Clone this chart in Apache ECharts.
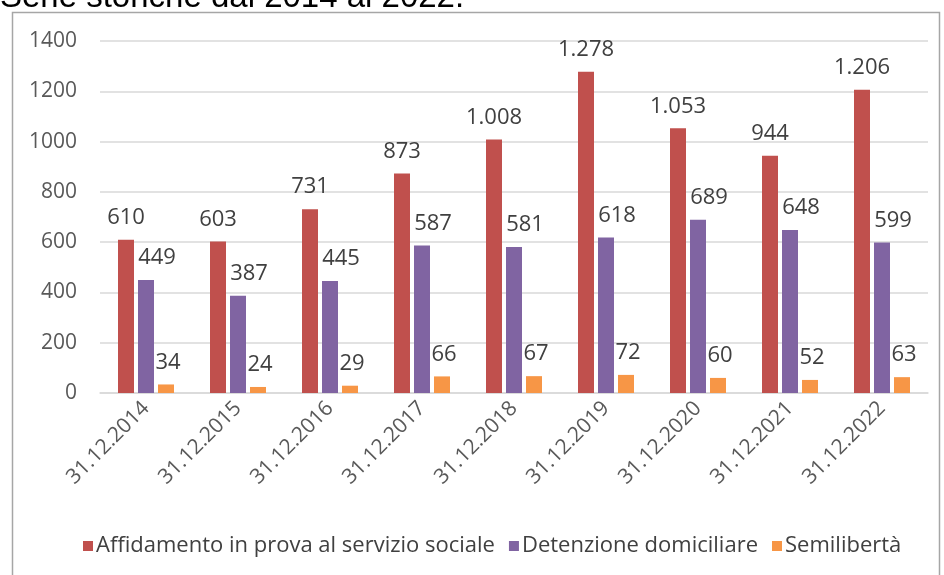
<!DOCTYPE html>
<html>
<head>
<meta charset="utf-8">
<script src="https://cdn.jsdelivr.net/npm/echarts@6/dist/echarts.min.js"></script>
<style>
  html, body { margin: 0; padding: 0; background: #fff; }
  #chart { width: 944px; height: 575px; }
</style>
</head>
<body>
<div id="chart"></div>
<script>
const categories = ["31.12.2014", "31.12.2015", "31.12.2016", "31.12.2017", "31.12.2018", "31.12.2019", "31.12.2020", "31.12.2021", "31.12.2022"];
const affidamento = [610, 603, 731, 873, 1008, 1278, 1053, 944, 1206];
const detenzione = [449, 387, 445, 587, 581, 618, 689, 648, 599];
const semiliberta = [34, 24, 29, 66, 67, 72, 60, 52, 63];
const yTicks = [0, 200, 400, 600, 800, 1000, 1200, 1400];

const FONT = "Open Sans";

// Italian thousands separator
const fmt = (v) => String(v).replace(/\B(?=(\d{3})+(?!\d))/g, ".");

const chart = echarts.init(document.getElementById("chart"));

const makeSeries = (name, data, color, offset) => ({
  name: name,
  type: "bar",
  data: data,
  barWidth: 16,
  barGap: "25%",
  itemStyle: { color: color },
  label: {
    show: true,
    position: "top",
    distance: 11,
    offset: offset,
    color: "#404040",
    fontSize: 22,
    fontFamily: FONT,
    formatter: (p) => fmt(p.value),
  },
});

chart.setOption({
  animation: false,
  graphic: [
    {
      type: "rect",
      shape: { x: 12.5, y: 12.5, width: 927, height: 600 },
      style: { fill: "none", stroke: "#a6a6a6", lineWidth: 1.5 },
    },
    {
      type: "text",
      left: 0,
      top: -19,
      style: {
        text: "Serie storiche dal 2014 al 2022.",
        font: "33px 'Liberation Sans', Arial",
        fill: "#000",
      },
    },
  ],
  legend: {
    bottom: 13,
    left: 78,
    itemWidth: 10,
    itemHeight: 10,
    itemGap: 14,
    icon: "rect",
    textStyle: { color: "#404040", fontSize: 22, fontFamily: FONT, padding: [0, 0, 0, -2] },
    data: ["Affidamento in prova al servizio sociale", "Detenzione domiciliare", "Semilibertà"],
  },
  grid: { left: 100, right: 16, top: 41, bottom: 182, containLabel: false },
  xAxis: {
    type: "category",
    data: categories,
    axisTick: { show: false },
    axisLine: { lineStyle: { color: "#d9d9d9", width: 1.5 } },
    axisLabel: {
      rotate: 45,
      color: "#595959",
      fontSize: 21,
      fontFamily: FONT,
      margin: 12,
      interval: 0,
    },
  },
  yAxis: {
    type: "value",
    min: yTicks[0],
    max: yTicks[yTicks.length - 1],
    interval: 200,
    axisLine: { show: false },
    axisTick: { show: false },
    splitLine: { lineStyle: { color: "#d9d9d9", width: 1.5 } },
    axisLabel: { color: "#595959", fontSize: 21, fontFamily: FONT, margin: 23, formatter: (v) => String(v) },
  },
  series: [
    makeSeries("Affidamento in prova al servizio sociale", affidamento, "#C0504D", [0, 0]),
    makeSeries("Detenzione domiciliare", detenzione, "#8064A2", [11, 0]),
    makeSeries("Semilibertà", semiliberta, "#F79646", [2, 0]),
  ],
});
</script>
</body>
</html>
